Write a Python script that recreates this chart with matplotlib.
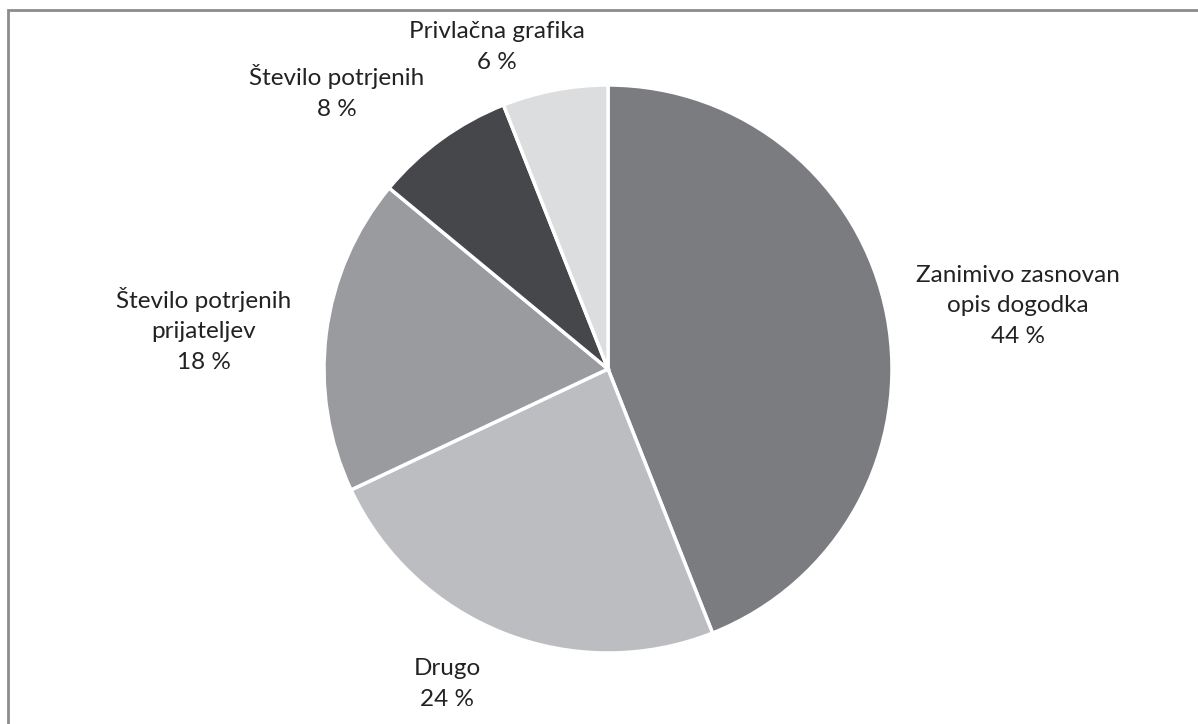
import matplotlib.pyplot as plt
from matplotlib.patches import Rectangle

# survey shares, clockwise from 12 o'clock
labels = ['Zanimivo zasnovan\nopis dogodka', 'Drugo', 'Število potrjenih\nprijateljev',
          'Število potrjenih', 'Privlačna grafika']
shares = [44, 24, 18, 8, 6]
colors = ['#7b7c80', '#bcbdc0', '#9a9b9f', '#46474a', '#dcdddf']

# label anchor (pixel x, pixel y from top) for each slice
label_pos = [(1018, 306), (447, 684), (204, 330), (337, 92), (497, 47)]

W, H = 1198, 724
fig = plt.figure(figsize=(W / 100, H / 100), dpi=100)
ax = fig.add_axes([0, 0, 1, 1])
ax.set_xlim(0, W)
ax.set_ylim(0, H)
ax.set_aspect('equal')
ax.axis('off')

ax.pie(shares, colors=colors, startangle=90, counterclock=False,
       center=(608, H - 369), radius=284,
       wedgeprops=dict(edgecolor='white', linewidth=2.5))
ax.set_xlim(0, W)
ax.set_ylim(0, H)

for lab, val, (x, y) in zip(labels, shares, label_pos):
    ax.text(x, H - y, f'{lab}\n{val} %', ha='center', va='center',
            fontsize=17.5, family=['Lato', 'DejaVu Sans'], color='#222222',
            linespacing=1.55)

# chart area frame
ax.add_patch(Rectangle((8, -20), W, H - 10 + 20, fill=False,
                       edgecolor='#8c8c8c', linewidth=2, clip_on=False))

fig.savefig('out.png', dpi=100)
